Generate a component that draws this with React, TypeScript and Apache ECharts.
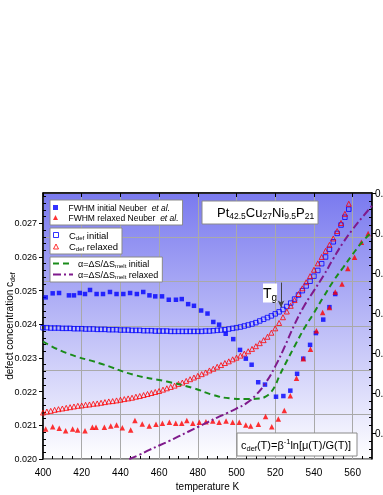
import React, { useEffect, useRef } from "react";
import * as echarts from "echarts";

const FONT = "'Liberation Sans', Arial, sans-serif";

// FWHM data (Neuber et al.), initial state: filled blue squares
const fwhmInitT = [401.4, 405, 408.3, 413.4, 416, 419, 421.7, 424.3, 427.7, 431, 434.6, 438, 441.5, 445, 448.5, 451.8, 455, 458, 461.5, 465, 468.7, 471.7, 475, 478, 481.7, 485, 488, 491, 494.4, 498.3, 501.8, 504.8, 507.8, 511.2, 514.7, 520.4, 524.2, 527.8, 531.3, 534.5, 538, 541, 544.8, 548, 551];
const fwhmInitC = [0.0248, 0.02492, 0.02493, 0.02486, 0.02486, 0.02493, 0.0249, 0.02502, 0.0249, 0.0249, 0.02496, 0.0249, 0.0249, 0.02493, 0.0249, 0.02496, 0.02486, 0.02483, 0.02483, 0.02473, 0.02473, 0.02475, 0.0246, 0.02455, 0.02441, 0.02432, 0.02407, 0.02399, 0.02372, 0.02356, 0.02324, 0.02298, 0.0228, 0.02228, 0.02221, 0.02185, 0.02187, 0.02203, 0.02253, 0.02298, 0.02339, 0.02374, 0.02414, 0.02451, 0.0249];

// FWHM data (Neuber et al.), relaxed state: filled red triangles
const fwhmRelT = [401.4, 405, 408.4, 411.7, 415.3, 417.9, 421.7, 425.5, 427.4, 431.7, 435, 438, 441, 445.3, 447.5, 451.3, 454.9, 458.4, 461.7, 465.3, 468.6, 471.7, 474.3, 477.4, 480.8, 484.2, 487.7, 491, 494.6, 498, 501.4, 504.8, 507.3, 511.3, 515, 518.2, 521.6, 524.7, 527.8, 531, 534.5, 538.2, 541.3, 544.5, 548, 551, 554.5, 557.5, 561, 564.5, 568];
const fwhmRelC = [0.02089, 0.02096, 0.02091, 0.02084, 0.02089, 0.02086, 0.02084, 0.02094, 0.02094, 0.02094, 0.02098, 0.02101, 0.02093, 0.02086, 0.02114, 0.02104, 0.02098, 0.02103, 0.02106, 0.02109, 0.02106, 0.02106, 0.02114, 0.02106, 0.02109, 0.02111, 0.02113, 0.02109, 0.02113, 0.02109, 0.02109, 0.02101, 0.02098, 0.02103, 0.02126, 0.02096, 0.02119, 0.02144, 0.02188, 0.0224, 0.02298, 0.02326, 0.02381, 0.02435, 0.0245, 0.02496, 0.0252, 0.02566, 0.02599, 0.02644, 0.0267];

// Calculated c_def(T): temperatures
const cdefT = [400, 402, 404, 406, 408, 410, 412, 414, 416, 418, 420, 422, 424, 426, 428, 430, 432, 434, 436, 438, 440, 442, 444, 446, 448, 450, 452, 454, 456, 458, 460, 462, 464, 466, 468, 470, 472, 474, 476, 478, 480, 482, 484, 486, 488, 490, 492, 494, 496, 498, 500, 502, 504, 506, 508, 510, 512, 514, 516, 518, 520, 522, 524, 526, 528, 530, 532, 534, 536, 538, 540, 542, 544, 546, 548, 550, 552, 554, 556, 558];
const cdefInit = [0.0239, 0.0239, 0.02389, 0.02389, 0.02389, 0.02388, 0.02388, 0.02388, 0.02387, 0.02387, 0.02387, 0.02386, 0.02386, 0.02386, 0.02385, 0.02385, 0.02385, 0.02384, 0.02384, 0.02384, 0.02383, 0.02383, 0.02383, 0.02382, 0.02382, 0.02382, 0.02381, 0.02381, 0.02381, 0.0238, 0.0238, 0.0238, 0.0238, 0.02379, 0.02379, 0.02379, 0.02379, 0.02379, 0.02379, 0.02379, 0.02379, 0.02379, 0.0238, 0.0238, 0.02381, 0.02382, 0.02383, 0.02384, 0.02386, 0.02388, 0.0239, 0.02392, 0.02395, 0.02398, 0.02401, 0.02405, 0.0241, 0.02415, 0.0242, 0.02425, 0.02431, 0.02437, 0.02444, 0.02453, 0.02463, 0.02475, 0.02487, 0.025, 0.02514, 0.02528, 0.02543, 0.0256, 0.0258, 0.026, 0.02623, 0.02645, 0.0267, 0.02695, 0.02718, 0.02742];
const cdefRel = [0.02138, 0.02141, 0.02143, 0.02146, 0.02148, 0.0215, 0.02152, 0.02154, 0.02156, 0.02158, 0.02159, 0.02161, 0.02162, 0.02164, 0.02165, 0.02167, 0.02169, 0.02171, 0.02172, 0.02174, 0.02176, 0.02178, 0.0218, 0.02182, 0.02185, 0.02187, 0.0219, 0.02193, 0.02196, 0.02199, 0.02202, 0.02206, 0.0221, 0.02214, 0.02218, 0.02223, 0.02227, 0.02232, 0.02237, 0.02242, 0.02247, 0.02252, 0.02257, 0.02263, 0.02268, 0.02274, 0.02279, 0.02285, 0.0229, 0.02296, 0.02301, 0.02307, 0.02313, 0.0232, 0.02327, 0.02335, 0.02344, 0.02353, 0.02363, 0.02375, 0.02388, 0.02404, 0.02421, 0.02438, 0.02455, 0.02472, 0.0249, 0.02507, 0.02525, 0.02543, 0.02562, 0.02581, 0.026, 0.02618, 0.02636, 0.02655, 0.02677, 0.02701, 0.02728, 0.02758];

// alpha = dS/dS_melt curves (drawn in left-axis units)
const alphaInitT = [400, 412, 430, 447, 464, 478, 488, 497, 505, 512, 515, 518, 520, 522, 525, 530, 535, 540, 545, 550, 555, 560, 565, 570];
const alphaInitC = [0.02349, 0.02315, 0.02283, 0.0225, 0.0223, 0.0221, 0.0219, 0.0218, 0.02178, 0.0218, 0.02185, 0.022, 0.02218, 0.02245, 0.0228, 0.02335, 0.02388, 0.02434, 0.02482, 0.02528, 0.02568, 0.02608, 0.02645, 0.02675];
const alphaRelT = [444.6, 450, 455, 460, 465, 470, 475, 480, 485, 490, 495, 500, 505, 510, 515, 520, 525, 530, 535, 540, 545, 550, 555, 560, 565, 570];
const alphaRelC = [0.02, 0.02013, 0.02027, 0.0204, 0.02053, 0.02067, 0.02081, 0.02095, 0.02109, 0.02123, 0.02136, 0.0215, 0.02165, 0.0219, 0.02226, 0.02275, 0.02335, 0.024, 0.02455, 0.025, 0.02545, 0.02595, 0.02642, 0.02682, 0.02718, 0.02752];

// Tg marker (arrow)
const tgT = 523;
const tgFrom = 0.02524;
const tgTo = 0.0245;

const rightLabels = ["0.8", "0.7", "0.6", "0.5", "0.4", "0.3", "0.2"];

const SQUARE = "path://M0,0L10,0L10,10L0,10Z";
const TRIANGLE = "path://M5,0L10,10L0,10Z";

const pair = (xs: number[], ys: number[]) => xs.map((x, i) => [x, ys[i]]);

export default function App() {
  const ref = useRef<HTMLDivElement>(null);
  useEffect(() => {
    const chart = echarts.init(ref.current!, undefined, { renderer: "svg" });
    const black = "#000";
    const leftBase = { type: "value", min: 0.02, max: 0.0279, interval: 0.001, position: "left" };
    const rightBase = { type: "value", min: 0, max: 0.665, interval: 0.1, position: "right", inverse: true };
    const option: any = {
      animation: false,
      textStyle: { fontFamily: FONT },
      grid: {
        left: 43, right: 11, top: 193, bottom: 36, show: true,
        containLabel: false, outerBoundsMode: "none",
        borderColor: black, borderWidth: 1,
        backgroundColor: new echarts.graphic.LinearGradient(0, 0, 0, 1, [
          { offset: 0, color: "#7a7aef" },
          { offset: 1, color: "#ffffff" },
        ]),
      },
      xAxis: [
        {
          type: "value", min: 400, max: 570, interval: 20, position: "bottom",
          axisLine: { lineStyle: { color: black, width: 1.5 } },
          axisTick: { length: 4, lineStyle: { color: black } },
          axisLabel: { color: black, fontSize: 10, margin: 8, showMaxLabel: false, fontFamily: FONT },
          splitLine: { show: true, lineStyle: { color: "#a9a9a9", width: 1 } },
          name: "temperature K", nameLocation: "middle", nameGap: 22, nameMoveOverlap: false,
          nameTextStyle: { fontSize: 10, color: black, fontFamily: FONT },
        },
        {
          type: "value", min: 400, max: 570, interval: 20, position: "bottom",
          axisLine: { show: false }, axisLabel: { show: false },
          axisTick: { show: false, inside: true },
          minorTick: { show: true, splitNumber: 4, length: 3, lineStyle: { color: black } },
          splitLine: { show: false },
        },
      ],
      yAxis: [
        {
          ...leftBase,
          axisLine: { show: true, lineStyle: { color: black, width: 1.5 } },
          axisTick: { show: true, length: 4, lineStyle: { color: black } },
          axisLabel: { color: black, fontSize: 9, margin: 6, showMaxLabel: false, fontFamily: FONT, formatter: (v: number) => v.toFixed(3) },
          splitLine: { show: false },
          name: "defect concentration c{s|def}", nameLocation: "middle", nameRotate: 90, nameGap: 27, nameMoveOverlap: false,
          nameTextStyle: { fontSize: 10, color: black, fontFamily: FONT, rich: { s: { fontSize: 7, padding: [6, 0, 0, 0], color: black, fontFamily: FONT } } },
        },
        {
          ...rightBase,
          axisLine: { show: true, lineStyle: { color: black, width: 1.5 } },
          axisTick: { show: true, length: 4, lineStyle: { color: black } },
          axisLabel: {
            color: black, fontSize: 10, margin: 3, showMaxLabel: false, fontFamily: FONT,
            formatter: (v: number) => rightLabels[Math.round(v * 10)] ?? "",
          },
          splitLine: { show: false },
        },
        {
          type: "value", min: 0, max: 6, interval: 1, position: "left",
          axisLine: { show: false }, axisTick: { show: false }, axisLabel: { show: false },
          splitLine: { show: true, lineStyle: { color: "#a9a9a9", width: 1 } },
        },
        {
          ...leftBase,
          axisLine: { show: false }, axisLabel: { show: false },
          axisTick: { show: false, inside: true },
          minorTick: { show: true, splitNumber: 5, length: 3, lineStyle: { color: black } },
          splitLine: { show: false },
        },
        {
          ...rightBase,
          axisLine: { show: false }, axisLabel: { show: false },
          axisTick: { show: false, inside: true },
          minorTick: { show: true, splitNumber: 5, length: 3, lineStyle: { color: black } },
          splitLine: { show: false },
        },
      ],
      legend: [
        {
          data: [
            { name: "FWHM initial Neuber et al.", icon: SQUARE },
            { name: "FWHM relaxed Neuber et al.", icon: TRIANGLE },
          ],
          left: 50, top: 200, orient: "vertical", itemWidth: 16, itemHeight: 5, itemGap: 1,
          padding: [3, 4, 3, 3], backgroundColor: "#fff", borderColor: "#8a8a8a", borderWidth: 1,
          selectedMode: false,
          formatter: (n: string) => n.replace(" et al.", "") + "  {i|et al.}",
          textStyle: { fontSize: 8.5, color: black, fontFamily: FONT, rich: { i: { fontSize: 8.5, fontStyle: "italic", color: black, fontFamily: FONT } } },
        },
        {
          data: [
            { name: "Cdef initial", icon: SQUARE },
            { name: "Cdef relaxed", icon: TRIANGLE },
          ],
          left: 50, top: 228, orient: "vertical", itemWidth: 16, itemHeight: 5, itemGap: 1,
          padding: [2, 4, 2, 3], backgroundColor: "#fff", borderColor: "#8a8a8a", borderWidth: 1,
          selectedMode: false,
          itemStyle: { borderWidth: 1 },
          formatter: (n: string) => "C{s|def}" + n.slice(4),
          textStyle: { fontSize: 9.5, color: black, fontFamily: FONT, rich: { s: { fontSize: 6, padding: [5, 0, 0, 0], color: black, fontFamily: FONT } } },
        },
        {
          data: ["α=ΔS/ΔSmelt initial", "α=ΔS/ΔSmelt relaxed"],
          left: 50, top: 257, orient: "vertical", itemWidth: 20, itemHeight: 8, itemGap: 1,
          padding: [2, 4, 2, 2], backgroundColor: "#fff", borderColor: "#8a8a8a", borderWidth: 1,
          selectedMode: false,
          itemStyle: { opacity: 0 },
          lineStyle: { width: 2 },
          formatter: (n: string) => n.replace("ΔSmelt", "ΔS{s|melt}"),
          textStyle: { fontSize: 9, color: black, fontFamily: FONT, rich: { s: { fontSize: 6, padding: [5, 0, 0, 0], color: black, fontFamily: FONT } } },
        },
      ],
      series: [
        {
          name: "Cdef initial", type: "scatter", data: pair(cdefT, cdefInit),
          symbol: "rect", symbolSize: 4.5,
          itemStyle: { color: "rgba(0,0,0,0)", borderColor: "#0000ff", borderWidth: 1 },
          markLine: {
            silent: true, animation: false,
            label: { show: false },
            lineStyle: { color: "#444", width: 1, type: "solid" },
            data: [[
              { coord: [tgT, tgFrom], symbol: "none" },
              { coord: [tgT, tgTo], symbol: "arrow", symbolSize: [5, 7] },
            ]],
          },
        },
        {
          name: "Cdef relaxed", type: "scatter", data: pair(cdefT, cdefRel),
          symbol: "triangle", symbolSize: 5,
          itemStyle: { color: "rgba(0,0,0,0)", borderColor: "#ff0000", borderWidth: 1 },
        },
        {
          name: "FWHM initial Neuber et al.", type: "scatter", data: pair(fwhmInitT, fwhmInitC),
          symbol: "rect", symbolSize: 4.5, itemStyle: { color: "#0000ff" },
        },
        {
          name: "FWHM relaxed Neuber et al.", type: "scatter", data: pair(fwhmRelT, fwhmRelC),
          symbol: "triangle", symbolSize: 5.5, itemStyle: { color: "#ff0000" },
        },
        {
          name: "α=ΔS/ΔSmelt initial", type: "line", data: pair(alphaInitT, alphaInitC),
          smooth: true, showSymbol: false, symbol: "none",
          lineStyle: { color: "#1a8c1a", width: 2, type: [6, 4] },
          itemStyle: { color: "#1a8c1a" },
        },
        {
          name: "α=ΔS/ΔSmelt relaxed", type: "line", data: pair(alphaRelT, alphaRelC),
          smooth: true, showSymbol: false, symbol: "none",
          lineStyle: { color: "#7f1a8c", width: 2, type: [8, 3, 2, 3] },
          itemStyle: { color: "#7f1a8c" },
        },
      ],
      graphic: [
        { type: "rect", shape: { x: 202, y: 201, width: 116, height: 23 }, style: { fill: "#fff", stroke: "#8a8a8a", lineWidth: 1 }, z: 10 },
        {
          type: "text", x: 217, y: 212, z: 11,
          style: {
            text: "Pt{s|42.5}Cu{s|27}Ni{s|9.5}P{s|21}", fontSize: 13, fontFamily: FONT, fill: black, verticalAlign: "middle",
            rich: { s: { fontSize: 8.5, fontFamily: FONT, padding: [8, 0, 0, 0], fill: black } },
          },
        },
        { type: "rect", shape: { x: 237, y: 433, width: 120, height: 23 }, style: { fill: "#fff", stroke: "#8a8a8a", lineWidth: 1 }, z: 10 },
        {
          type: "text", x: 241, y: 445, z: 11,
          style: {
            text: "c{s|def}(T)=β{p|-1}ln[μ(T)/G(T)]", fontSize: 11, fontFamily: FONT, fill: black, verticalAlign: "middle",
            rich: {
              s: { fontSize: 7.5, fontFamily: FONT, padding: [7, 0, 0, 0], fill: black },
              p: { fontSize: 7.5, fontFamily: FONT, padding: [0, 0, 7, 0], fill: black },
            },
          },
        },
        {
          type: "text", x: 263, y: 293, z: 11,
          style: {
            text: "T{s|g}", fontSize: 14, fontFamily: FONT, fill: black, verticalAlign: "middle", backgroundColor: "#fff",
            rich: { s: { fontSize: 10, fontFamily: FONT, padding: [9, 0, 0, 0], fill: black } },
          },
        },
      ],
    };
    chart.setOption(option);
    return () => chart.dispose();
  }, []);
  return <div ref={ref} style={{ position: "fixed", left: 0, top: 0, width: 383, height: 495 }} />;
}
